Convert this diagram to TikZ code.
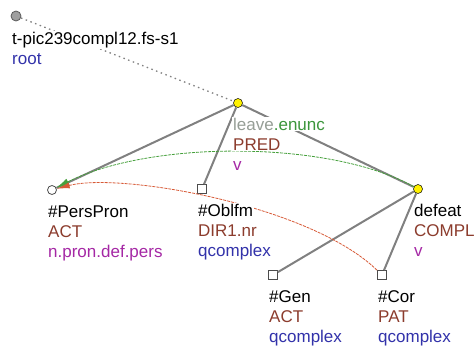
\documentclass[tikz,border=0pt]{standalone}
\usepackage{fontspec}
\newfontfamily\treefont{Liberation Sans}
\usetikzlibrary{arrows.meta}
\definecolor{edgegray}{RGB}{128,128,128}
\definecolor{funcred}{RGB}{140,60,45}
\definecolor{typeblue}{RGB}{50,50,170}
\definecolor{posmag}{RGB}{165,40,165}
\definecolor{lemgray}{RGB}{150,158,150}
\definecolor{modgreen}{RGB}{60,150,60}
\definecolor{corgreen}{RGB}{70,160,60}
\definecolor{corred}{RGB}{215,90,55}
\tikzset{
  lbl/.style={anchor=base west,fill=white,inner sep=1pt,font=\treefont\fontsize{17}{19}\selectfont},
  tedge/.style={draw=edgegray,line width=2pt},
  tcirc/.style={circle,draw=black,line width=0.5pt,minimum size=9pt,inner sep=0pt},
  tsq/.style={rectangle,draw=black!70,fill=white,line width=0.8pt,minimum size=9pt,inner sep=0pt},
}
\begin{document}
\begin{tikzpicture}[x=1pt,y=-1pt]
  \useasboundingbox (0,0) rectangle (475,349);
  % tree nodes
  \node[tcirc,fill=gray!75,draw=black!65,line width=0.8pt,minimum size=10pt] (root) at (16,16) {};
  \node[tcirc,fill=yellow] (leave) at (238,103) {};
  \node[tcirc,fill=white,draw=black!70,line width=0.8pt] (pp) at (52,190) {};
  \node[tsq] (oblfm) at (202,189) {};
  \node[tcirc,fill=yellow] (defeat) at (418,189) {};
  \node[tsq] (gen) at (273,275) {};
  \node[tsq] (cor) at (382,275) {};
  % edges
  \draw[edgegray,line width=1.3pt,dash pattern=on 1.5pt off 3.5pt] (root) -- (leave);
  \draw[tedge] (leave) -- (pp);
  \draw[tedge] (leave) -- (oblfm);
  \draw[tedge] (leave) -- (defeat);
  \draw[tedge] (defeat) -- (gen);
  \draw[tedge] (defeat) -- (cor);
  % coreference arrows
  \draw[corgreen,line width=0.8pt,dash pattern=on 3pt off 1pt,-{Latex[length=13pt,width=7pt]}]
    (defeat) .. controls (330,140) and (150,140) .. (pp);
  \draw[corred,line width=0.8pt,dash pattern=on 3pt off 1pt,-{Latex[length=13pt,width=6pt]}]
    (cor) .. controls (310,205) and (120,172) .. (pp);
  % labels
  \node[lbl] (root-a) at ([xshift=-5pt,yshift=-28pt]root) {t-pic239compl12.fs-s1};
  \node[lbl,text=typeblue] (root-b) at ([xshift=-5pt,yshift=-48pt]root) {root};
  \node[lbl] (leave-a) at ([xshift=-6pt,yshift=-27pt]leave) {\textcolor{lemgray}{leave}\textcolor{modgreen}{.enunc}};
  \node[lbl,text=funcred] (leave-b) at ([xshift=-6pt,yshift=-47pt]leave) {PRED};
  \node[lbl,text=posmag] (leave-c) at ([xshift=-6pt,yshift=-67pt]leave) {v};
  \node[lbl] (pp-a) at ([xshift=-5pt,yshift=-27pt]pp) {\#PersPron};
  \node[lbl,text=funcred] (pp-b) at ([xshift=-5pt,yshift=-47pt]pp) {ACT};
  \node[lbl,text=posmag] (pp-c) at ([xshift=-5pt,yshift=-67pt]pp) {n.pron.def.pers};
  \node[lbl] (oblfm-a) at ([xshift=-5pt,yshift=-27pt]oblfm) {\#Oblfm};
  \node[lbl,text=funcred] (oblfm-b) at ([xshift=-5pt,yshift=-47pt]oblfm) {DIR1.nr};
  \node[lbl,text=typeblue] (oblfm-c) at ([xshift=-5pt,yshift=-67pt]oblfm) {qcomplex};
  \node[lbl] (defeat-a) at ([xshift=-5pt,yshift=-27pt]defeat) {defeat};
  \node[lbl,text=funcred] (defeat-b) at ([xshift=-5pt,yshift=-47pt]defeat) {COMPL};
  \node[lbl,text=posmag] (defeat-c) at ([xshift=-5pt,yshift=-67pt]defeat) {v};
  \node[lbl] (gen-a) at ([xshift=-5pt,yshift=-27pt]gen) {\#Gen};
  \node[lbl,text=funcred] (gen-b) at ([xshift=-5pt,yshift=-47pt]gen) {ACT};
  \node[lbl,text=typeblue] (gen-c) at ([xshift=-5pt,yshift=-67pt]gen) {qcomplex};
  \node[lbl] (cor-a) at ([xshift=-5pt,yshift=-27pt]cor) {\#Cor};
  \node[lbl,text=funcred] (cor-b) at ([xshift=-5pt,yshift=-47pt]cor) {PAT};
  \node[lbl,text=typeblue] (cor-c) at ([xshift=-5pt,yshift=-67pt]cor) {qcomplex};
\end{tikzpicture}
\end{document}
